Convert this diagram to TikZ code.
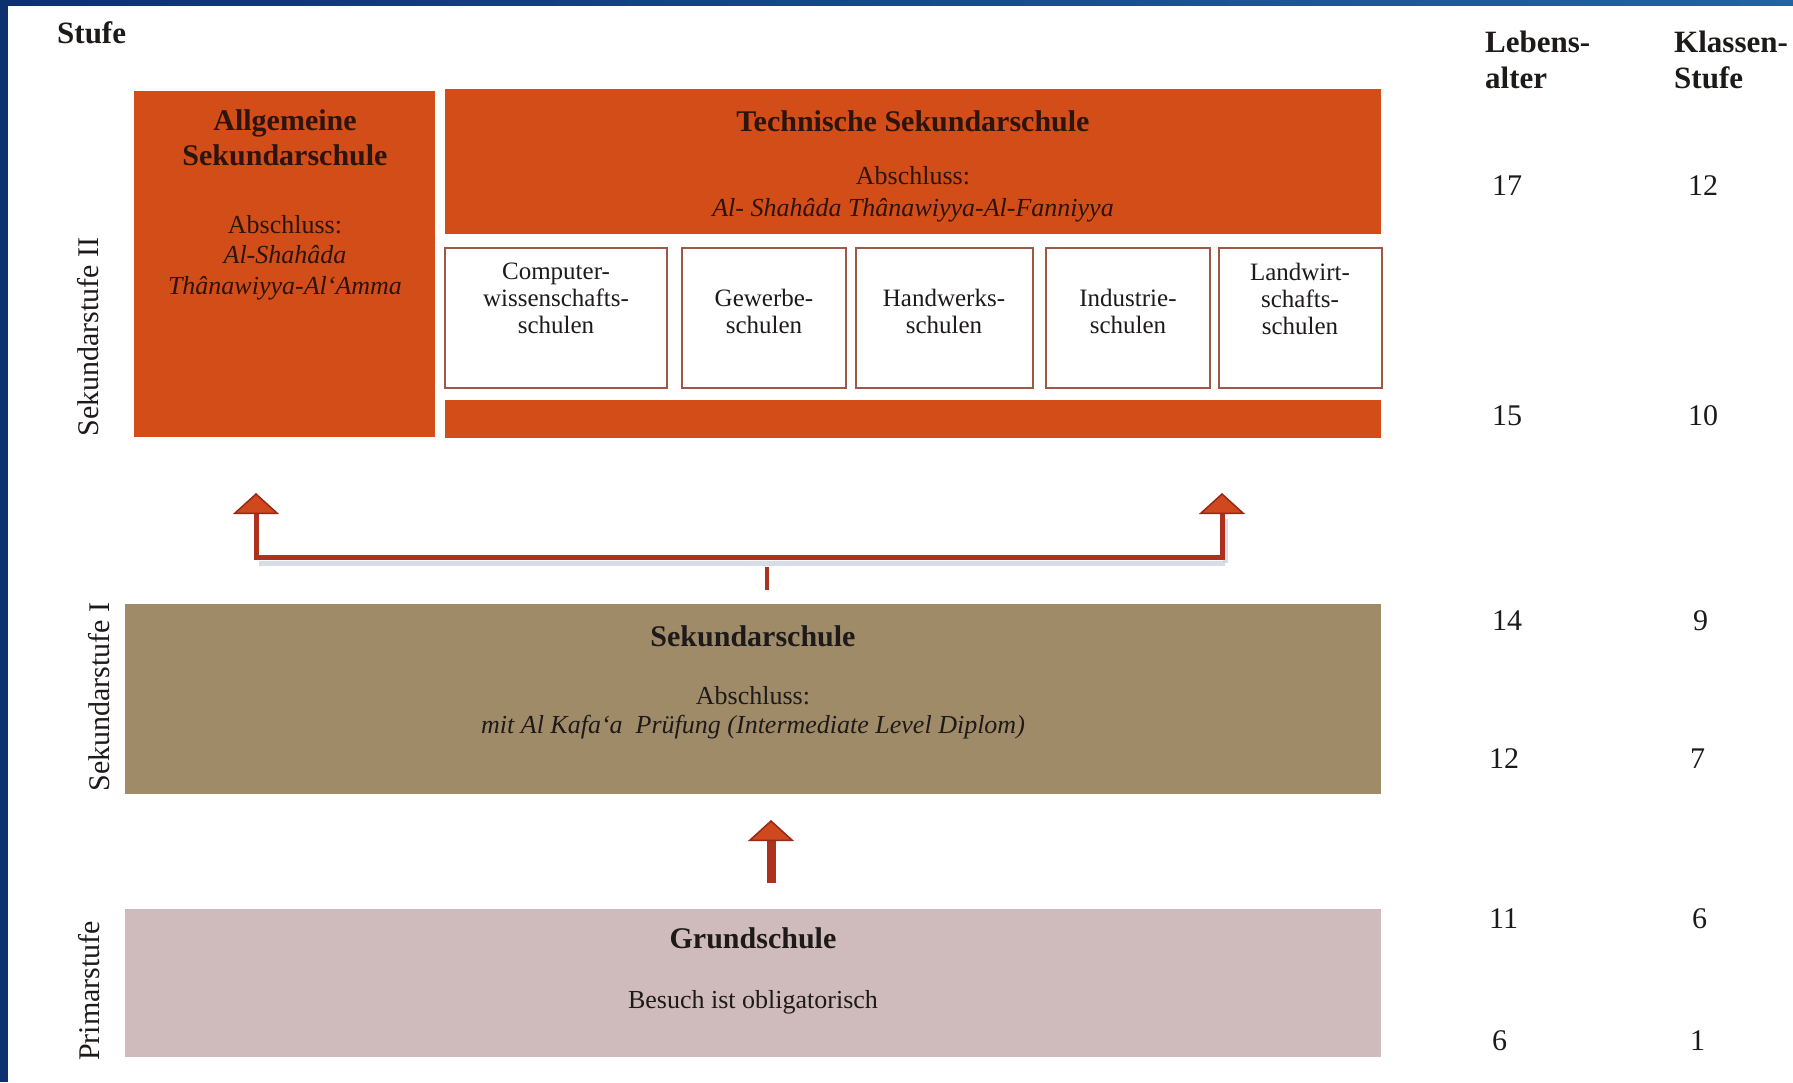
\documentclass[tikz,border=0pt]{standalone}
\usepackage{fontspec}
\setmainfont{Liberation Serif}
\usetikzlibrary{arrows.meta,calc}
\definecolor{orangebox}{RGB}{210,77,24}
\definecolor{tanbox}{RGB}{160,139,105}
\definecolor{rosebox}{RGB}{207,187,188}
\definecolor{arrowdark}{RGB}{172,50,30}
\definecolor{arrowfill}{RGB}{208,72,30}
\definecolor{tipline}{RGB}{150,40,22}
\definecolor{smallborder}{RGB}{160,88,70}
\definecolor{navyband}{RGB}{12,48,112}
\definecolor{lightband}{RGB}{38,98,158}
\definecolor{txt}{RGB}{30,26,26}
\definecolor{txtbrown}{RGB}{45,20,12}
\definecolor{shadowc}{RGB}{200,206,220}
\tikzset{
  blockbox/.style={inner sep=0pt, outer sep=0pt, anchor=north west, draw=none},
  subbox/.style={inner sep=0pt, outer sep=0pt, anchor=north west, draw=smallborder, line width=2pt, fill=white},
  ttl/.style={font=\fontsize{30}{34}\selectfont\bfseries, text=txt, anchor=base, inner sep=0pt},
  hdr/.style={font=\fontsize{31}{35}\selectfont\bfseries, text=txt, anchor=base west, inner sep=0pt},
  regtxt/.style={font=\fontsize{26}{30}\selectfont, text=txt, anchor=base, inner sep=0pt},
  ittxt/.style={font=\fontsize{26}{30}\selectfont\itshape, text=txt, anchor=base, inner sep=0pt},
  smalltxt/.style={font=\fontsize{25}{27}\selectfont, text=txt, anchor=north, align=center, inner sep=0pt},
  numtxt/.style={font=\fontsize{30}{34}\selectfont, text=txt, anchor=base west, inner sep=0pt},
  vlab/.style={font=\fontsize{30}{34}\selectfont, text=txt, rotate=90, anchor=center, inner sep=0pt},
  bracketline/.style={draw=arrowdark, line width=5pt},
  tipped/.style={-{Triangle[width=46pt,length=21pt,fill=arrowfill,color=tipline,line width=1.5pt]}},
  shadowline/.style={draw=shadowc, line width=5pt, opacity=0.7},
}
\begin{document}
\begin{tikzpicture}[x=1pt,y=-1pt]
\useasboundingbox (0,0) rectangle (1793,1082);
\fill[white] (0,0) rectangle (1793,1082);
\fill[navyband] (0,0) rectangle (8,1082);
\shade[left color=navyband, right color=lightband] (0,0) rectangle (1793,5);

% headers
\node[hdr] (stufe) at (57,43) {Stufe};
\node[hdr] (leb1) at (1485,52) {Lebens-};
\node[hdr] (leb2) at (1485,88) {alter};
\node[hdr] (kl1) at (1674,52) {Klassen-};
\node[hdr] (kl2) at (1674,88) {Stufe};

% vertical labels
\node[vlab] (sek2lab) at (88,337) {Sekundarstufe II};
\node[vlab] (sek1lab) at (99,697) {Sekundarstufe I};
\node[vlab] (primlab) at (89,991) {Primarstufe};

% Sekundarstufe II blocks
\node[blockbox, fill=orangebox, minimum width=301pt, minimum height=346pt] (allg) at (134,91) {};
\node[blockbox, fill=orangebox, minimum width=936pt, minimum height=145pt] (tech) at (445,89) {};
\node[blockbox, fill=orangebox, minimum width=936pt, minimum height=38pt] (techbar) at (445,400) {};

\node[ttl, text=txtbrown] (allgA) at (285,130) {Allgemeine};
\node[ttl, text=txtbrown] (allgB) at (285,165) {Sekundarschule};
\node[regtxt, text=txtbrown] (allgC) at (285,233) {Abschluss:};
\node[ittxt, text=txtbrown] (allgD) at (285,263) {Al-Shahâda};
\node[ittxt, text=txtbrown] (allgE) at (285,294) {Thânawiyya-Al`Amma};

\node[ttl, text=txtbrown] (techA) at (913,131) {Technische Sekundarschule};
\node[regtxt, text=txtbrown] (techB) at (913,184) {Abschluss:};
\node[ittxt, text=txtbrown] (techC) at (913,216) {Al- Shahâda Thânawiyya-Al-Fanniyya};

\node[subbox, minimum width=222pt, minimum height=140pt] (comp) at (445,248) {};
\node[subbox, minimum width=164pt, minimum height=140pt] (gew) at (682,248) {};
\node[subbox, minimum width=177pt, minimum height=140pt] (hand) at (856,248) {};
\node[subbox, minimum width=164pt, minimum height=140pt] (ind) at (1046,248) {};
\node[subbox, minimum width=163pt, minimum height=140pt] (land) at (1219,248) {};

\node[smalltxt] (compT) at (556,263) {Computer-\\wissenschafts-\\schulen};
\node[smalltxt] (gewT) at (764,289) {Gewerbe-\\schulen};
\node[smalltxt] (handT) at (944,289) {Handwerks-\\schulen};
\node[smalltxt] (indT) at (1128,289) {Industrie-\\schulen};
\node[smalltxt] (landT) at (1300,263) {Landwirt-\\schafts-\\schulen};

% Sekundarstufe I
\node[blockbox, fill=tanbox, minimum width=1256pt, minimum height=190pt] (sek) at (125,604) {};
\node[ttl] (sekA) at (753,646) {Sekundarschule};
\node[regtxt] (sekB) at (753,704) {Abschluss:};
\node[ittxt] (sekC) at (753,733) {mit Al Kafa`a\ \ Prüfung (Intermediate Level Diplom)};

% Primarstufe
\node[blockbox, fill=rosebox, minimum width=1256pt, minimum height=148pt] (grund) at (125,909) {};
\node[ttl] (grundA) at (753,948) {Grundschule};
\node[regtxt] (grundB) at (753,1008) {Besuch ist obligatorisch};

% ages and grades
\node[numtxt] (a17) at (1492,195) {17};
\node[numtxt] (a15) at (1492,425) {15};
\node[numtxt] (a14) at (1492,630) {14};
\node[numtxt] (a12) at (1489,768) {12};
\node[numtxt] (a11) at (1489,928) {11};
\node[numtxt] (a6) at (1492,1050) {6};
\node[numtxt] (k12) at (1688,195) {12};
\node[numtxt] (k10) at (1688,425) {10};
\node[numtxt] (k9) at (1693,630) {9};
\node[numtxt] (k7) at (1690,768) {7};
\node[numtxt] (k6) at (1692,928) {6};
\node[numtxt] (k1) at (1690,1050) {1};

% connectors
\coordinate (brL) at (256,557);
\coordinate (brR) at (1222,557);
\coordinate (tipL) at (256,493);
\coordinate (tipR) at (1222,493);
\coordinate (stubTop) at (767,567);
\coordinate (stubBot) at (767,590);
\coordinate (upBot) at ($(grund.north)+(18,-26)$);
\coordinate (upTip) at ($(sek.south)+(18,26)$);

\draw[shadowline] ($(brL)+(3,6)$) -- ($(brR)+(3,6)$);
\draw[shadowline] ($(brR)+(3,6)$) -- ($(tipR)+(3,26)$);
\draw[bracketline, tipped] (brL) -- (tipL);
\draw[bracketline, tipped] (brR) -- (tipR);
\draw[bracketline, line cap=rect] (brL) -- (brR);
\draw[draw=arrowdark, line width=4pt] (stubBot) -- (stubTop);
\draw[draw=arrowdark, line width=9pt, tipped] (upBot) -- (upTip);
\end{tikzpicture}
\end{document}
